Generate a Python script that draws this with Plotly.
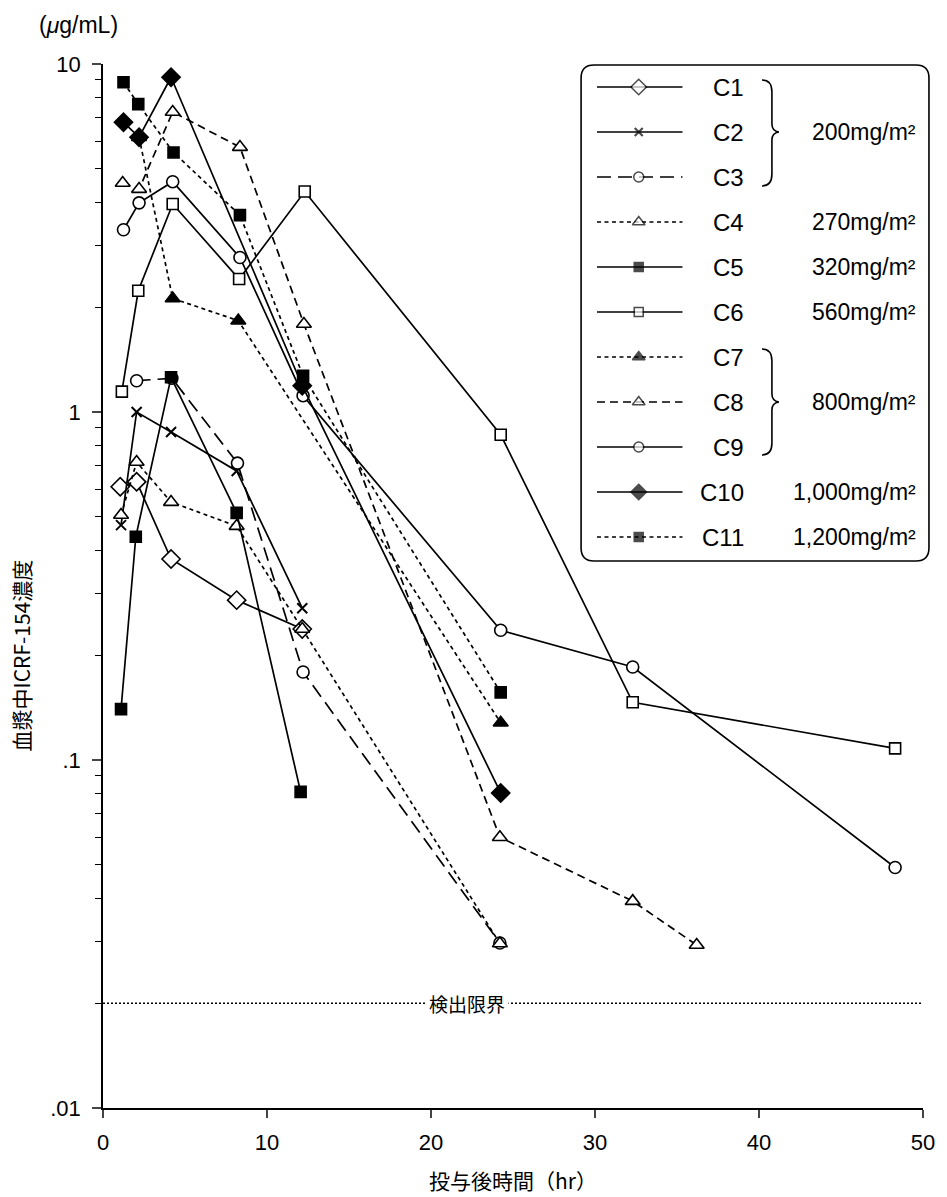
import math
import plotly.graph_objects as go

# ---------------- data ----------------
series_names = ["C1", "C2", "C3", "C4", "C5", "C6", "C7", "C8", "C9", "C10", "C11"]
doses = ["200mg/m²", "270mg/m²", "320mg/m²", "560mg/m²", "800mg/m²",
         "1,000mg/m²", "1,200mg/m²"]

c1_t = [1.05, 2.05, 4.15, 8.15, 12.15]
c1_v = [0.61, 0.63, 0.378, 0.288, 0.238]
c2_t = [1.1, 2.05, 4.15, 8.15, 12.15]
c2_v = [0.473, 1.0, 0.876, 0.677, 0.273]
c3_t = [2.05, 4.2, 8.2, 12.2, 24.2]
c3_v = [1.23, 1.25, 0.713, 0.179, 0.0298]
c4_t = [1.1, 2.05, 4.15, 8.15, 12.15, 24.2]
c4_v = [0.506, 0.718, 0.551, 0.470, 0.238, 0.0297]
c5_t = [1.1, 2.0, 4.15, 8.15, 12.05]
c5_v = [0.140, 0.438, 1.258, 0.513, 0.081]
c6_t = [1.15, 2.15, 4.25, 8.3, 12.3, 24.25, 32.3, 48.3]
c6_v = [1.144, 2.23, 3.96, 2.41, 4.30, 0.86, 0.1465, 0.108]
c7_t = [2.2, 4.25, 8.25, 24.25]
c7_v = [6.16, 2.12, 1.83, 0.128]
c8_t = [1.2, 2.2, 4.25, 8.35, 12.25, 24.2, 32.3, 36.2]
c8_v = [4.55, 4.37, 7.28, 5.77, 1.79, 0.060, 0.0393, 0.0294]
c9_t = [1.25, 2.2, 4.25, 8.35, 12.2, 24.25, 32.3, 48.3]
c9_v = [3.34, 3.99, 4.59, 2.78, 1.114, 0.236, 0.185, 0.0491]
c10_t = [1.25, 2.2, 4.15, 12.15, 24.25]
c10_v = [6.80, 6.16, 9.16, 1.19, 0.0804]
c11_t = [1.25, 2.15, 4.3, 8.35, 12.2, 24.25]
c11_v = [8.86, 7.67, 5.57, 3.68, 1.27, 0.1564]

detection_limit = 0.02
x_ticks = [0, 10, 20, 30, 40, 50]
y_ticks = [0.01, 0.1, 1, 10]
y_ticktext = [".01", ".1", "1", "10"]

# ---------------- styles ----------------
DOT = "4px,3.5px"
MED = "8px,5px"
LONG = "14px,7px"
styles = {
    "C1": ("solid", "diamond", "white", 14),
    "C2": ("solid", "x-thin", "black", 10),
    "C3": (LONG, "circle", "white", 12),
    "C4": (DOT, "triangle-up", "white", 13),
    "C5": ("solid", "square", "black", 11),
    "C6": ("solid", "square", "white", 11),
    "C7": (DOT, "triangle-up", "black", 13),
    "C8": (MED, "triangle-up", "white", 13),
    "C9": ("solid", "circle", "white", 12),
    "C10": ("solid", "diamond", "black", 14),
    "C11": (DOT, "square", "black", 11),
}
data = {
    "C1": (c1_t, c1_v), "C2": (c2_t, c2_v), "C3": (c3_t, c3_v),
    "C4": (c4_t, c4_v), "C5": (c5_t, c5_v), "C6": (c6_t, c6_v),
    "C7": (c7_t, c7_v), "C8": (c8_t, c8_v), "C9": (c9_t, c9_v),
    "C10": (c10_t, c10_v), "C11": (c11_t, c11_v),
}

FONT = "Liberation Sans, Arial, sans-serif"
CJK = "Noto Sans CJK JP, sans-serif"

W, H = 947, 1197
L, R, T, B = 103, 928, 64, 1108  # plot area in pixels

fig = go.Figure()

# main data traces
for name in series_names:
    dash, sym, fill, size = styles[name]
    t, v = data[name]
    fig.add_trace(go.Scatter(
        x=t, y=v, mode="lines+markers", name=name, showlegend=False,
        line=dict(color="black", width=1.7, dash=dash),
        marker=dict(symbol=sym, size=size, color=fill,
                    line=dict(color="black", width=1.6 if sym != "x-thin" else 2)),
        xaxis="x", yaxis="y", cliponaxis=False,
    ))

# ---------------- hand-drawn legend (overlay axes in pixel units) ----------------
row_y = [87, 132, 177, 222, 267, 312, 357, 402, 447, 492, 537]
for i, name in enumerate(series_names):
    dash, sym, fill, size = styles[name]
    yy = row_y[i]
    fig.add_trace(go.Scatter(
        x=[600, 642, 686], y=[yy, yy, yy], mode="lines+markers", showlegend=False,
        line=dict(color="black", width=1.7, dash=dash),
        marker=dict(symbol=sym, size=[0, max(size - 2, 8), 0], color=fill,
                    line=dict(color="black", width=1.5 if sym != "x-thin" else 2.2)),
        xaxis="x2", yaxis="y2", hoverinfo="skip",
    ))

annotations = []
for i, name in enumerate(series_names):
    annotations.append(dict(x=750, y=row_y[i], xref="x2", yref="y2", text=name,
                            showarrow=False, xanchor="right", yanchor="middle",
                            font=dict(family=FONT, size=24, color="black")))
dose_rows = [(row_y[1], doses[0]), (row_y[3], doses[1]), (row_y[4], doses[2]),
             (row_y[5], doses[3]), (row_y[7], doses[4]), (row_y[9], doses[5]),
             (row_y[10], doses[6])]
for yy, txt in dose_rows:
    annotations.append(dict(x=923, y=yy, xref="x2", yref="y2", text=txt,
                            showarrow=False, xanchor="right", yanchor="middle",
                            font=dict(family=FONT, size=23, color="black")))

def px(x):
    return (x - L) / (R - L)

def py(y):
    return (B - y) / (B - T)

# rounded legend box in paper coords
bx0, bx1, by0, by1, rr = 584, 934, 65, 561, 13
box_path = (
    f"M {px(bx0 + rr)},{py(by0)} L {px(bx1 - rr)},{py(by0)} "
    f"Q {px(bx1)},{py(by0)} {px(bx1)},{py(by0 + rr)} "
    f"L {px(bx1)},{py(by1 - rr)} Q {px(bx1)},{py(by1)} {px(bx1 - rr)},{py(by1)} "
    f"L {px(bx0 + rr)},{py(by1)} Q {px(bx0)},{py(by1)} {px(bx0)},{py(by1 - rr)} "
    f"L {px(bx0)},{py(by0 + rr)} Q {px(bx0)},{py(by0)} {px(bx0 + rr)},{py(by0)} Z"
)

def brace(y0, ym, y1):
    return (f"M 766,{y0} Q 776,{y0} 776,{y0 + 12} L 776,{ym - 8} "
            f"Q 776,{ym - 1} 783,{ym} Q 776,{ym + 1} 776,{ym + 8} "
            f"L 776,{y1 - 12} Q 776,{y1} 766,{y1}")

shapes = [
    dict(type="path", path=box_path, xref="paper", yref="paper",
         line=dict(color="black", width=1.6), fillcolor="white", layer="below"),
    dict(type="path", path=brace(80, row_y[1], 186), xref="x2", yref="y2",
         line=dict(color="black", width=1.6)),
    dict(type="path", path=brace(349, row_y[7], 455), xref="x2", yref="y2",
         line=dict(color="black", width=1.6)),
    # detection limit line
    dict(type="line", xref="x", yref="y", x0=0, x1=50,
         y0=detection_limit, y1=detection_limit,
         line=dict(color="black", width=1.4, dash="2px,2px")),
]

annotations += [
    dict(x=22.2, y=math.log10(detection_limit), xref="x", yref="y", text="検出限界",
         showarrow=False, bgcolor="white", borderpad=3,
         font=dict(family=CJK, size=19, color="black")),
    dict(x=px(78), y=py(25), xref="paper", yref="paper", text="(<i>μ</i>g/mL)",
         showarrow=False, xanchor="center", yanchor="middle",
         font=dict(family=FONT, size=23, color="black")),
    dict(x=px(21), y=py(655), xref="paper", yref="paper", text="血漿中ICRF-154濃度",
         textangle=-90, showarrow=False, xanchor="center", yanchor="middle",
         font=dict(family=CJK, size=21, color="black")),
    dict(x=px(515), y=py(1180), xref="paper", yref="paper", text="投与後時間（hr）",
         showarrow=False, xanchor="center", yanchor="middle",
         font=dict(family=CJK, size=21, color="black")),
]

minor_y = [m * 10 ** e for e in (-2, -1, 0) for m in range(2, 10)]

fig.update_layout(
    width=W, height=H,
    margin=dict(l=L, r=W - R, t=T, b=H - B),
    paper_bgcolor="white", plot_bgcolor="white",
    xaxis=dict(range=[0, 50], tickvals=x_ticks, ticks="outside", ticklen=8,
               tickwidth=1.5, showline=True, linecolor="black", linewidth=1.5,
               showgrid=False, zeroline=False, ticklabelstandoff=6,
               tickfont=dict(family=FONT, size=22, color="black")),
    yaxis=dict(type="log", range=[-2, 1], tickvals=y_ticks, ticktext=y_ticktext,
               ticks="outside", ticklen=9, tickwidth=1.5, showline=True,
               linecolor="black", linewidth=1.5, showgrid=False, zeroline=False,
               ticklabelstandoff=7,
               minor=dict(tickvals=minor_y, ticks="outside", ticklen=6,
                          tickwidth=1.2, tickcolor="black", showgrid=False),
               tickfont=dict(family=FONT, size=22, color="black")),
    xaxis2=dict(overlaying="x", range=[L, R], visible=False, fixedrange=True),
    yaxis2=dict(overlaying="y", range=[B, T], visible=False, fixedrange=True),
    shapes=shapes, annotations=annotations,
)

fig.write_html("out.html", config={"displayModeBar": False},
               post_script="document.body.style.margin='0';")
